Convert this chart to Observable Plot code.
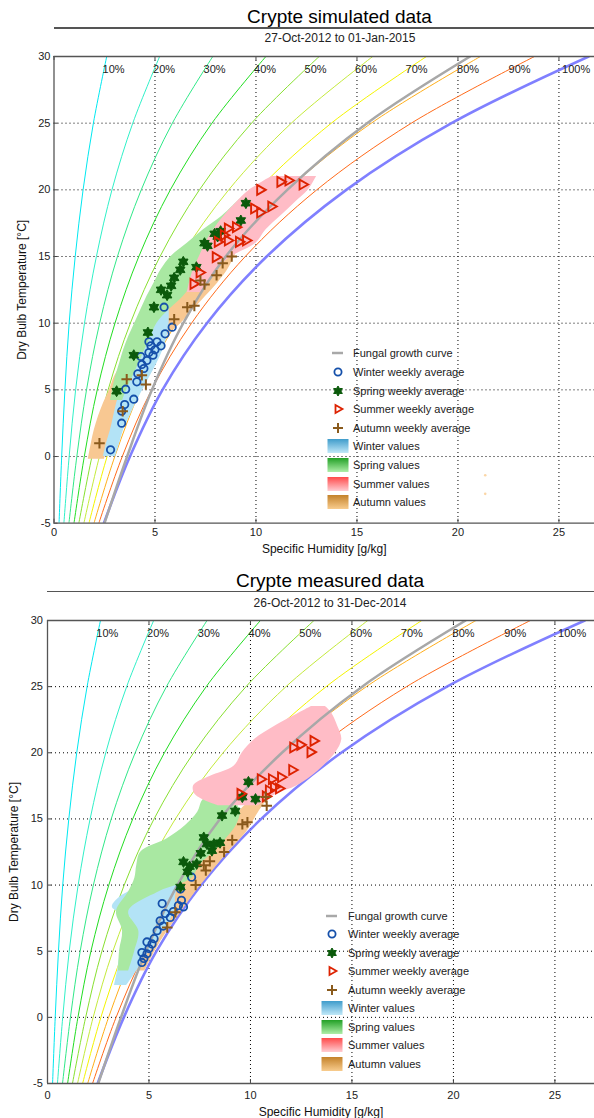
<!DOCTYPE html>
<html><head><meta charset="utf-8">
<script src="https://cdn.jsdelivr.net/npm/d3@7"></script>
<script src="https://cdn.jsdelivr.net/npm/@observablehq/plot@0.6"></script>
<style>
body{margin:0;background:#fff;}
#root{position:relative;width:594px;height:1118px;overflow:hidden;font-family:'Liberation Sans',Arial,Helvetica,sans-serif;color:#222;}
.t{position:absolute;white-space:nowrap;}
</style></head><body><div id="root"></div>
<script>
// ---------------- shared chart furniture ----------------
const xTickVals = [0, 5, 10, 15, 20, 25];
const yTickVals = [-5, 0, 5, 10, 15, 20, 25, 30];
const xGridVals = [5, 10, 15, 20, 25];
const yGridVals = [0, 5, 10, 15, 20, 25];

// relative humidity curves: specific humidity [g/kg] read at these temperatures
const rhLevels = ["10%","20%","30%","40%","50%","60%","70%","80%","90%","100%"];
const curveTemps = [-5, 0, 5, 10, 15, 20, 25, 30];
const rh10  = [0.25, 0.38, 0.54, 0.75, 1.05, 1.44, 1.95, 2.61];
const rh20  = [0.49, 0.75, 1.07, 1.51, 2.10, 2.87, 3.90, 5.23];
const rh30  = [0.74, 1.13, 1.61, 2.26, 3.14, 4.32, 5.86, 7.86];
const rh40  = [0.99, 1.50, 2.14, 3.02, 4.20, 5.76, 7.82, 10.49];
const rh50  = [1.23, 1.88, 2.68, 3.78, 5.25, 7.20, 9.78, 13.13];
const rh60  = [1.48, 2.25, 3.22, 4.53, 6.30, 8.65, 11.75, 15.78];
const rh70  = [1.73, 2.63, 3.76, 5.29, 7.36, 10.10, 13.73, 18.44];
const rh80  = [1.98, 3.01, 4.29, 6.05, 8.41, 11.56, 15.71, 21.11];
const rh90  = [2.22, 3.38, 4.83, 6.81, 9.47, 13.01, 17.69, 23.79];
const rh100 = [2.47, 3.76, 5.37, 7.57, 10.53, 14.47, 19.68, 26.47];
const rhCurves = [rh10, rh20, rh30, rh40, rh50, rh60, rh70, rh80, rh90, rh100];
const rhLabelX = [2.95, 5.45, 7.95, 10.45, 12.95, 15.45, 17.95, 20.5, 23.05, 25.85];
const rhLabelT = 29.05;
const fungalQ = [2.50, 3.62, 4.85, 6.40, 8.50, 11.55, 15.50, 20.60];

const rhColors = ["#00e8f0","#30f0c8","#30e888","#22dd22","#88e030","#c4ea3c","#f4f400","#ffae1a","#ff6a1a","#7272ff"];
const rhWidths = [1,1,1,1,1,1,1,1,1,2.6];

// ---------------- simulated data (top) ----------------
const simWinterT  = [0, 1, 2, 3, 4, 5, 6, 7, 8, 9, 10, 11.3];
const simWinterLo = [2.45, 2.6, 2.8, 2.95, 3.1, 3.3, 3.5, 3.75, 4.0, 4.35, 4.8, 5.2];
const simWinterHi = [3.05, 3.25, 3.45, 3.75, 4.05, 4.4, 4.75, 5.1, 5.4, 5.6, 5.7, 5.7];
const simSpringT  = [4.2, 5, 6, 7, 8, 9, 10, 11, 12, 13, 14, 15, 16, 17, 18, 19.3];
const simSpringLo = [2.8, 2.9, 3.05, 3.25, 3.45, 3.7, 4.0, 4.3, 4.6, 4.95, 5.3, 5.8, 6.6, 7.4, 8.3, 9.2];
const simSpringHi = [3.4, 3.6, 3.9, 4.2, 4.5, 4.8, 5.1, 5.7, 6.4, 6.9, 7.2, 7.6, 8.2, 8.9, 9.6, 9.9];
const simSummerT  = [12.3, 13, 14, 15, 16, 17, 18, 19, 20, 21];
const simSummerLo = [6.6, 6.7, 6.9, 7.2, 7.5, 7.9, 8.4, 9.0, 9.7, 10.8];
const simSummerHi = [7.3, 7.7, 8.0, 8.8, 10.0, 10.5, 11.2, 11.9, 12.6, 13.0];
const simAutumnT  = [-0.2, 1, 2, 3, 4, 5, 6, 7, 8, 9, 10, 11, 12, 13, 14, 15.2];
const simAutumnLo = [1.7, 1.85, 2.0, 2.2, 2.45, 2.75, 3.0, 3.4, 3.9, 4.5, 5.0, 5.5, 6.1, 6.8, 7.5, 8.2];
const simAutumnHi = [2.5, 2.7, 2.95, 3.15, 3.4, 3.7, 4.0, 4.4, 4.9, 5.5, 6.3, 6.9, 7.5, 8.1, 8.6, 9.0];
const simAutumnStray = [[21.35, -1.4], [21.35, -2.8]];

const simWinterAvg = [[2.8,0.5],[3.35,2.5],[3.35,3.4],[3.5,3.9],[3.95,4.3],[3.55,5.05],[4.1,5.6],[4.15,6.2],[4.35,6.9],[4.3,7.5],[4.6,7.2],[4.7,7.8],[4.8,8.3],[4.9,7.6],[5.0,8.0],[4.7,8.6],[5.1,8.6],[5.3,8.3],[5.5,9.2],[5.85,9.7],[5.45,11.2],[4.45,6.6]];
const simSpringAvg = [[3.1,4.9],[3.95,7.6],[4.65,9.3],[4.95,11.2],[5.3,12.5],[5.6,12.1],[5.8,12.8],[5.95,13.4],[6.25,14.0],[6.4,14.6],[7.05,14.2],[7.45,16.0],[7.6,15.8],[7.95,16.7],[8.25,16.9],[8.1,16.5],[9.25,17.7],[9.5,19.0]];
const simSummerAvg = [[10.2,20.0],[11.2,20.6],[11.6,20.7],[12.3,20.4],[9.9,18.6],[10.2,18.3],[10.75,18.75],[8.6,17.1],[9.0,17.2],[8.1,16.1],[8.6,16.2],[9.15,16.1],[9.5,16.2],[8.0,14.95],[7.2,13.8],[6.9,12.95],[8.4,16.6]];
const simAutumnAvg = [[2.25,1.0],[3.4,3.4],[3.6,5.8],[4.35,6.1],[4.55,5.4],[5.95,10.3],[6.6,11.2],[6.95,11.3],[7.25,13.2],[7.45,12.9],[8.05,13.6],[8.35,14.5],[8.8,15.0]];

// ---------------- measured data (bottom) ----------------
const meaWinterT  = [2.4, 3.5, 4.5, 5.5, 6.5, 7.5, 8.3, 9.0, 10.0, 10.8];
const meaWinterLo = [3.3, 3.45, 3.55, 3.7, 3.9, 4.1, 3.2, 3.5, 4.6, 5.2];
const meaWinterHi = [3.9, 4.4, 4.8, 5.3, 5.7, 6.1, 6.3, 6.3, 6.4, 6.3];
const meaSpringT  = [3.5, 5, 6.5, 8, 9.5, 10.5, 11.5, 12.5, 13.5, 14.5, 15.5, 16.5, 17.5, 18.3];
const meaSpringLo = [3.5, 3.55, 3.7, 3.4, 4.0, 4.3, 4.4, 4.6, 5.9, 6.8, 7.4, 7.7, 9.2, 9.3];
const meaSpringHi = [4.0, 4.3, 4.5, 4.0, 5.5, 7.1, 7.5, 8.2, 8.8, 9.3, 9.5, 9.3, 9.9, 9.9];
const meaSummerT  = [16, 16.8, 17.5, 18.2, 19, 20, 21, 22, 23, 23.5];
const meaSummerLo = [8.4, 7.3, 7.2, 8.0, 9.2, 9.6, 10.2, 11.2, 12.4, 13.0];
const meaSummerHi = [10.4, 11.2, 12.3, 13.0, 13.6, 14.2, 14.5, 14.3, 14.0, 13.7];
const meaAutumnT  = [3.5, 5, 6.5, 8, 9.5, 11, 12.5, 14, 15.5, 16.8];
const meaAutumnLo = [4.2, 4.6, 5.1, 5.7, 6.3, 7.0, 7.8, 8.7, 9.4, 10.3];
const meaAutumnHi = [4.8, 5.3, 5.9, 6.6, 7.3, 8.1, 8.9, 9.8, 10.4, 11.0];

const meaWinterAvg = [[7.1,10.6],[6.55,9.7],[6.6,8.85],[6.7,8.35],[6.45,8.45],[5.65,8.6],[5.8,7.85],[6.05,7.55],[5.55,7.3],[5.7,6.9],[5.4,6.55],[5.25,5.95],[5.15,5.55],[4.9,5.7],[4.65,4.9],[4.75,4.45],[4.9,4.8],[4.65,4.15],[5.0,5.2],[6.2,8.0]];
const meaSpringAvg = [[9.9,17.8],[9.6,16.65],[10.25,16.5],[9.25,15.6],[8.6,15.25],[8.5,13.2],[8.2,13.1],[7.85,13.1],[7.7,13.6],[8.1,12.6],[7.55,12.4],[6.7,11.75],[7.35,11.6],[6.9,11.0],[6.55,9.85],[7.0,11.4]];
const meaSummerAvg = [[12.1,20.4],[12.45,20.6],[13.1,20.9],[12.95,20.05],[12.05,18.7],[11.5,18.15],[11.05,18.0],[10.5,18.0],[11.15,17.4],[11.4,17.3],[10.9,17.15],[10.75,16.7],[9.5,16.9]];
const meaAutumnAvg = [[10.75,16.65],[10.8,16.0],[9.6,14.6],[9.85,14.75],[9.1,13.4],[8.7,12.5],[7.7,11.5],[7.8,11.1],[7.3,10.0],[6.3,7.95],[5.9,6.8],[8.0,11.8]];

// legend labels
const legendLabels = ["Fungal growth curve","Winter weekly average","Spring weekly average","Summer weekly average","Autumn weekly average","Winter values","Spring values","Summer values","Autumn values"];

// ---------------- styling ----------------
const FONT = "'Liberation Sans', Arial, Helvetica, sans-serif";
const cloudFill = {winter:"#b3e3f6", spring:"#a9e8a2", summer:"#ffbcc6", autumn:"#f8c892"};
const avgColor = {winter:"#1550aa", spring:"#0b5a0b", summer:"#dd2200", autumn:"#8a5a1c"};
const fungalColor = "#a8a8a8";

const hexagram = {draw(ctx, size) {
  const R = Math.sqrt(size) * 0.62, r = R / Math.sqrt(3);
  for (let i = 0; i < 12; i++) {
    const a = Math.PI / 6 * i - Math.PI / 2, rad = i % 2 ? r : R;
    const x = rad * Math.cos(a), y = rad * Math.sin(a);
    if (i) ctx.lineTo(x, y); else ctx.moveTo(x, y);
  }
  ctx.closePath();
}};
const triRight = {draw(ctx, size) {
  const s = Math.sqrt(size) * 0.62;
  ctx.moveTo(s, 0); ctx.lineTo(-s / 2, s * 0.866); ctx.lineTo(-s / 2, -s * 0.866); ctx.closePath();
}};

function band(T, lo, hi) { return T.map((t, i) => ({T: t, lo: lo[i], hi: hi[i]})); }

function chart(o) {
  const marks = [];
  marks.push(Plot.ruleX(xGridVals, {stroke: "#000", strokeDasharray: "1,3", strokeWidth: 1}));
  marks.push(Plot.ruleY(yGridVals, {stroke: "#000", strokeDasharray: "1,3", strokeWidth: 1}));
  rhCurves.forEach((qs, i) => {
    marks.push(Plot.line(curveTemps.map((t, j) => ({T: t, q: qs[j]})),
      {x: "q", y: "T", stroke: rhColors[i], strokeWidth: rhWidths[i], strokeOpacity: i === 9 ? 0.9 : 1, curve: "catmull-rom", clip: true}));
  });
  for (const s of ["autumn", "winter", "spring", "summer"]) {
    marks.push(Plot.areaX(o.clouds[s], {y: "T", x1: "lo", x2: "hi", fill: cloudFill[s], curve: "catmull-rom", clip: true}));
  }
  if (o.stray) marks.push(Plot.dot(o.stray, {x: d => d[0], y: d => d[1], r: 1.3, fill: "#fbd6a6"}));
  marks.push(Plot.line(curveTemps.map((t, j) => ({T: t, q: fungalQ[j]})),
    {x: "q", y: "T", stroke: fungalColor, strokeWidth: 2.5, curve: "catmull-rom", clip: true}));
  marks.push(Plot.dot(o.avg.winter, {x: d => d[0], y: d => d[1], r: 3.7, fill: "none", stroke: avgColor.winter, strokeWidth: 1.8}));
  marks.push(Plot.dot(o.avg.spring, {x: d => d[0], y: d => d[1], r: 5, symbol: hexagram, fill: avgColor.spring, stroke: avgColor.spring, strokeWidth: 1}));
  marks.push(Plot.dot(o.avg.summer, {x: d => d[0], y: d => d[1], r: 5.2, symbol: triRight, fill: "none", stroke: avgColor.summer, strokeWidth: 1.9}));
  marks.push(Plot.dot(o.avg.autumn, {x: d => d[0], y: d => d[1], r: 3.5, symbol: "plus", fill: "none", stroke: avgColor.autumn, strokeWidth: 2}));
  marks.push(Plot.text(rhLevels, {x: (d, i) => rhLabelX[i], y: () => rhLabelT, text: d => d, fontSize: 11, fill: "#222"}));
  // frame (left, top, bottom) and inward ticks
  marks.push(Plot.ruleX(xTickVals, {y1: -5, y2: -4.7, stroke: "#444"}));
  marks.push(Plot.ruleX(xTickVals, {y1: 30, y2: 29.7, stroke: "#444"}));
  marks.push(Plot.ruleY(yTickVals, {x1: 0, x2: 0.2, stroke: "#444"}));
  marks.push(Plot.ruleY([-5, 30], {stroke: "#555", strokeWidth: 1.3}));
  marks.push(Plot.ruleX([0], {stroke: "#555", strokeWidth: 1.3}));
  marks.push(Plot.text(["Dry Bulb Temperature [°C]"], {frameAnchor: "left", dx: o.yLabDx, rotate: -90, textAnchor: "middle", lineAnchor: "middle", fontSize: 12, fill: "#111"}));
  marks.push(Plot.text(["Specific Humidity [g/kg]"], {frameAnchor: "bottom", dy: o.xLabDy, textAnchor: "middle", lineAnchor: "middle", fontSize: 12, fill: "#111"}));

  const svg = Plot.plot({
    width: 594, height: o.height,
    marginTop: o.mt, marginBottom: o.mb, marginLeft: o.ml, marginRight: 0,
    style: {fontFamily: FONT, fontSize: "11px", color: "#222", background: "transparent", overflow: "visible"},
    x: {domain: [0, o.xMax], ticks: xTickVals, tickSize: 0, tickPadding: o.xPad, tickFormat: d => String(d), label: null},
    y: {domain: [-5, 30], ticks: yTickVals, tickSize: 0, tickPadding: o.yPad, tickFormat: d => String(d), label: null},
    marks
  });
  svg.style.position = "absolute";
  svg.style.left = "0px";
  svg.style.top = o.top + "px";
  return svg;
}

const root = document.getElementById("root");

root.appendChild(chart({
  top: 0, height: 560, mt: 56, mb: 37.3, ml: 53.5, xMax: 26.76, xPad: 5, yPad: 3.5, yLabDx: -31.5, xLabDy: 26,
  clouds: {winter: band(simWinterT, simWinterLo, simWinterHi), spring: band(simSpringT, simSpringLo, simSpringHi),
           summer: band(simSummerT, simSummerLo, simSummerHi), autumn: band(simAutumnT, simAutumnLo, simAutumnHi)},
  stray: simAutumnStray,
  avg: {winter: simWinterAvg, spring: simSpringAvg, summer: simSummerAvg, autumn: simAutumnAvg}
}));
root.appendChild(chart({
  top: 560, height: 558, mt: 60, mb: 35, ml: 47, xMax: 26.95, xPad: 7.5, yPad: 4.6, yLabDx: -33, xLabDy: 28.7,
  clouds: {winter: band(meaWinterT, meaWinterLo, meaWinterHi), spring: band(meaSpringT, meaSpringLo, meaSpringHi),
           summer: band(meaSummerT, meaSummerLo, meaSummerHi), autumn: band(meaAutumnT, meaAutumnLo, meaAutumnHi)},
  stray: null,
  avg: {winter: meaWinterAvg, spring: meaSpringAvg, summer: meaSummerAvg, autumn: meaAutumnAvg}
}));

function addText(txt, cx, cy, size, extra) {
  const d = document.createElement("div");
  d.className = "t";
  d.textContent = txt;
  d.style.cssText += `left:${cx - 250}px;width:500px;text-align:center;top:${cy - size * 0.62}px;font-size:${size}px;line-height:${size * 1.24}px;` + (extra || "");
  root.appendChild(d);
}
function addLine(x, y, w) {
  const d = document.createElement("div");
  d.style.cssText = `position:absolute;left:${x}px;top:${y}px;width:${w}px;height:1.4px;background:#555;`;
  root.appendChild(d);
}
addText("Crypte simulated data", 339.5, 16.5, 19, "color:#000;");
addLine(54, 27.3, 540);
addText("27-Oct-2012 to 01-Jan-2015", 340, 38.5, 12, "color:#222;");
addText("Crypte measured data", 330, 580.5, 19, "color:#000;");
addLine(47, 591, 547);
addText("26-Oct-2012 to 31-Dec-2014", 330, 603, 12, "color:#222;");

// legends
function hexPath(R) {
  const r = R / Math.sqrt(3); let p = "";
  for (let i = 0; i < 12; i++) {
    const a = Math.PI / 6 * i - Math.PI / 2, rad = i % 2 ? r : R;
    p += (i ? "L" : "M") + (11 + rad * Math.cos(a)).toFixed(2) + "," + (8 + rad * Math.sin(a)).toFixed(2);
  }
  return p + "Z";
}
const gradStops = {winter: ["#3f9ccb", "#c0e8f8"], spring: ["#22a026", "#aeeea8"], summer: ["#ff4a4a", "#ffcdd2"], autumn: ["#c4822a", "#f8cc8e"]};
function legend(iconX, textX, y0, step, id) {
  const icons = [
    `<line x1="5" x2="16" y1="8" y2="8" stroke="${fungalColor}" stroke-width="2.5"/>`,
    `<circle cx="11" cy="8" r="3.6" fill="none" stroke="${avgColor.winter}" stroke-width="1.8"/>`,
    `<path d="${hexPath(5)}" fill="${avgColor.spring}" stroke="${avgColor.spring}" stroke-width="1"/>`,
    `<path d="M15.5,8L8.5,12L8.5,4Z" fill="none" stroke="${avgColor.summer}" stroke-width="1.8"/>`,
    `<path d="M6,8H16M11,3V13" fill="none" stroke="${avgColor.autumn}" stroke-width="2"/>`
  ];
  ["winter", "spring", "summer", "autumn"].forEach(s => {
    const g = gradStops[s];
    icons.push(`<defs><linearGradient id="${id}${s}" x1="0" y1="0" x2="0" y2="1"><stop offset="0" stop-color="${g[0]}"/><stop offset="1" stop-color="${g[1]}"/></linearGradient></defs><rect x="0.5" y="1" width="21" height="14" fill="url(#${id}${s})"/>`);
  });
  legendLabels.forEach((lab, i) => {
    const cy = y0 + i * step;
    const sv = document.createElement("div");
    sv.style.cssText = `position:absolute;left:${iconX - 11}px;top:${cy - 8}px;width:22px;height:16px;`;
    sv.innerHTML = `<svg width="22" height="16" viewBox="0 0 22 16" style="display:block">${icons[i]}</svg>`;
    root.appendChild(sv);
    const t = document.createElement("div");
    t.className = "t";
    t.textContent = lab;
    t.style.cssText += `left:${textX}px;top:${cy - 7}px;font-size:11px;line-height:14px;color:#222;`;
    root.appendChild(t);
  });
}
legend(338, 353, 353.3, 18.62, "g1");
legend(332, 348, 915.7, 18.54, "g2");
</script></body></html>
